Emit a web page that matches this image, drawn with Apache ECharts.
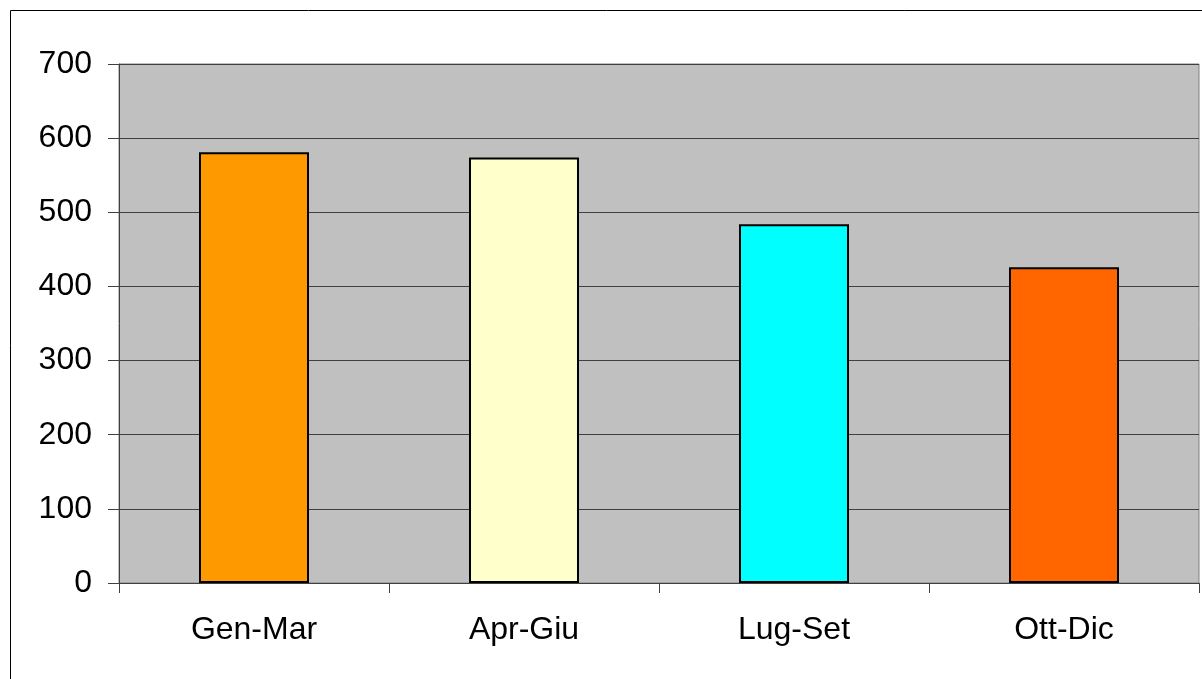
<!DOCTYPE html>
<html>
<head>
<meta charset="utf-8">
<script src="https://cdn.jsdelivr.net/npm/echarts@6/dist/echarts.min.js"></script>
<style>
    html, body { margin: 0; padding: 0; background: #fff; }
    #main { width: 1202px; height: 679px; }
</style>
</head>
<body>
<div id="main"></div>
<script>
const periods = ['Gen-Mar', 'Apr-Giu', 'Lug-Set', 'Ott-Dic']
const values = [581, 574, 484, 426]
const barColors = ['#ff9900', '#ffffcc', '#00ffff', '#ff6600']

const chart = echarts.init(document.getElementById('main'))
chart.setOption({
    animation: false,
    textStyle: { fontFamily: '"Liberation Sans", Arial, sans-serif' },
    // outer frame of the chart area
    graphic: [{
        type: 'rect',
        shape: { x: 10.5, y: 10.5, width: 1200, height: 700 },
        style: { fill: 'none', stroke: '#000', lineWidth: 1 },
        silent: true
    }],
    grid: {
        left: 119,
        top: 64,
        right: 3,
        bottom: 96,
        show: true,
        backgroundColor: '#c0c0c0',
        borderColor: '#808080',
        borderWidth: 1
    },
    xAxis: {
        type: 'category',
        data: periods,
        axisLine: { show: true, lineStyle: { color: '#404040' } },
        axisTick: { show: true, length: 10, alignWithLabel: false, lineStyle: { color: '#404040' } },
        axisLabel: { color: '#000', fontSize: 32, margin: 31 }
    },
    yAxis: {
        type: 'value',
        min: 0,
        max: 700,
        interval: 100,
        axisLine: { show: true, lineStyle: { color: '#404040' } },
        axisTick: { show: true, length: 11, lineStyle: { color: '#404040' } },
        axisLabel: { color: '#000', fontSize: 32, margin: 27 },
        splitLine: { show: true, lineStyle: { color: '#404040', width: 1 } }
    },
    series: [{
        type: 'bar',
        barWidth: 110,
        data: values.map((v, i) => ({
            value: v,
            itemStyle: { color: barColors[i] }
        })),
        itemStyle: { borderColor: '#000', borderWidth: 2 }
    }]
})
</script>
</body>
</html>
